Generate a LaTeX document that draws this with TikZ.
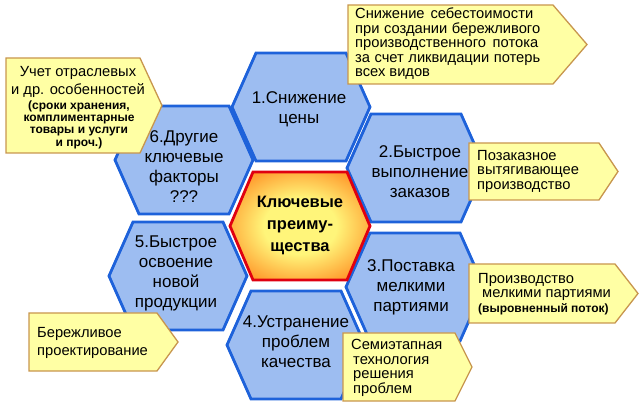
\documentclass[tikz,border=0pt]{standalone}
\usepackage{fontspec}
\setmainfont{Liberation Sans}
\usetikzlibrary{calc}
\definecolor{cellfill}{HTML}{9DBDF1}
\definecolor{cellline}{HTML}{1E62DA}
\definecolor{corered}{HTML}{E00010}
\definecolor{coreyellow}{HTML}{FFF57A}
\definecolor{coreamber}{HTML}{FF9A2C}
\definecolor{coreorange}{HTML}{FF4A18}
\definecolor{notefill}{HTML}{FFFFA4}
\definecolor{noteline}{HTML}{C8964E}
\pgfdeclareradialshading{coreglow}{\pgfpoint{0bp}{0bp}}{%
  color(0bp)=(coreyellow); color(13bp)=(coreyellow);
  color(29bp)=(coreamber); color(42bp)=(coreorange);
  color(50bp)=(coreorange)}

\tikzset{
  hexcell/.style={draw=cellline, fill=cellfill, line width=2.8pt, line join=miter},
  hexlabel/.style={align=center, inner sep=0pt, font=\fontsize{17}{20}\selectfont},
  notebox/.style={draw=noteline, fill=notefill, line width=1.3pt},
  notelabel/.style={align=left, inner sep=0pt, anchor=west,
    font=\fontsize{14.7}{14.5}\selectfont},
}

\begin{document}
\begin{tikzpicture}[x=1pt, y=-1pt]
  \useasboundingbox (0,0) rectangle (640,403);
  % Outer cells
  \foreach \cx/\cy in {301/107, 416/168, 415/287, 296/345, 178/276, 184/160}
    \draw[hexcell] (\cx-69,\cy) -- (\cx-45,\cy-54) -- (\cx+45,\cy-54)
      -- (\cx+69,\cy) -- (\cx+45,\cy+54) -- (\cx-45,\cy+54) -- cycle;
  % Core cell
  \path[draw=corered, line width=2.8pt, shading=coreglow]
    (230,226) -- (253,172) -- (347,172) -- (370,226) -- (347,280)
    -- (253,280) -- cycle;
  % Cell labels
  \node[hexlabel] (price) at (299,109) {1.Снижение\\цены};
  \node[hexlabel] (orders) at (420,172) {2.Быстрое\\выполнение\\заказов};
  \node[hexlabel] (batches) at (411,287) {3.Поставка\\мелкими\\партиями};
  \node[hexlabel] (quality) at (296,342) {4.Устранение\\проблем\\качества};
  \node[hexlabel] (launch) at (176,273)
    {5.Быстрое\\освоение\\новой\\продукции};
  \node[hexlabel] (other) at (184,167) {6.Другие\\ключевые\\факторы\\???};
  \node[hexlabel, font=\bfseries\fontsize{16.5}{22}\selectfont] (core)
    at (300,225) {Ключевые\\преиму-\\щества};
  % Note boxes
  \foreach \xa/\ya/\xb/\xt/\yb in {348/5/553/587/84, 469/143/599/618/200,
      469/264/615/638/323, 343/333/455/472/401, 29/313/157/178/371,
      6/58/140/162/153}
    \draw[notebox] (\xa,\ya) -- (\xb,\ya) -- (\xt,{(\ya+\yb)/2})
      -- (\xb,\yb) -- (\xa,\yb) -- cycle;
  % Note labels
  \node[notelabel] (cost) at (355,44)
    {\makebox[178pt][s]{Снижение себестоимости}\\
     \makebox[185pt][s]{при создании бережливого}\\
     \makebox[183pt][s]{производственного потока}\\
     \makebox[185pt][s]{за счет ликвидации потерь}\\всех видов};
  \node[notelabel] (pull) at (477,171)
    {Позаказное\\вытягивающее\\производство};
  \node[notelabel] (flow) at (478,294)
    {Производство\\\hspace{4pt}мелкими партиями\\{\bfseries\fontsize{12}{14}\selectfont(выровненный поток)}};
  \node[notelabel] (steps) at (351,368)
    {Семиэтапная\\\hspace{2pt}технология\\\hspace{2pt}решения\\\hspace{2pt}проблем};
  \node[notelabel, font=\fontsize{14.7}{18}\selectfont] (design) at (37,343)
    {Бережливое\\проектирование};
  \node[notelabel, anchor=center, align=center,
        font=\fontsize{14.7}{18}\selectfont] (branch) at (78,82)
    {Учет отраслевых\\и др. особенностей};
  \node[notelabel, anchor=center, align=center,
        font=\bfseries\fontsize{12}{12.3}\selectfont] (extra) at (79,124.5)
    {(сроки хранения,\\комплиментарные\\товары и услуги\\и проч.)};
\end{tikzpicture}
\end{document}
